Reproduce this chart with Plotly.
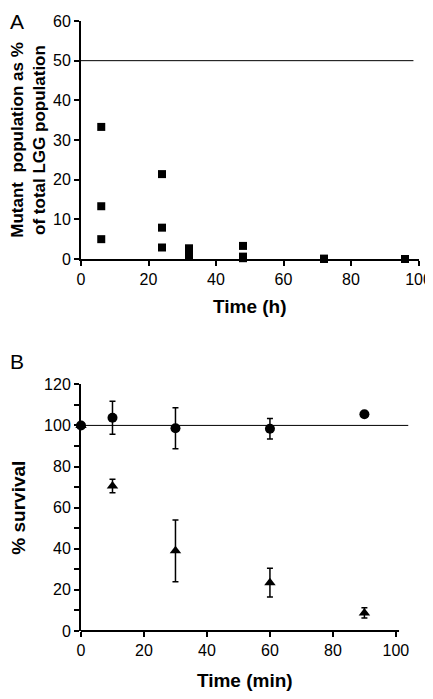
import plotly.graph_objects as go

# ---------------- Data ----------------
# Panel A: mutant population as % of total LGG population vs time (h)
a_time = [6, 6, 6, 24, 24, 24, 32, 32, 32, 48, 48, 48, 72, 72, 96]
a_mutant = [33.3, 13.3, 5.0, 21.4, 7.9, 2.9, 2.7, 1.6, 0.6, 3.3, 0.6, 0.2, 0.1, 0.0, 0.0]
a_ref_x = [0, 98.5]
a_ref_y = [50, 50]

# Panel B: % survival vs time (min)
b_time = [0, 10, 30, 60, 90]
b_circle = [100, 103.7, 98.6, 98.4, 105.4]
b_circle_err = [0, 8, 10, 5, 0]
b_triangle = [100, 70.5, 39, 23.5, 8.8]
b_triangle_err = [0, 3.3, 15, 7, 2.5]
b_ref_x = [0, 104]
b_ref_y = [100, 100]

x_ticks = [0, 20, 40, 60, 80, 100]

# page body has an 8px margin; figure fills the window width, no vertical scroll
OFF = 8
W, H = 433 - OFF, 699 - 2 * OFF
FONT = "Liberation Sans, Arial, sans-serif"


def px(x):
    return (x - OFF) / W


def py(y):
    return 1 - (y - OFF) / H


fig = go.Figure()

# Panel A
fig.add_trace(go.Scatter(x=a_ref_x, y=a_ref_y, mode="lines",
                         line=dict(color="black", width=1), xaxis="x", yaxis="y",
                         hoverinfo="skip"))
fig.add_trace(go.Scatter(x=a_time, y=a_mutant, mode="markers",
                         marker=dict(symbol="square", size=8, color="black"),
                         xaxis="x", yaxis="y", cliponaxis=False))

# Panel B
fig.add_trace(go.Scatter(x=b_ref_x, y=b_ref_y, mode="lines",
                         line=dict(color="black", width=1), xaxis="x2", yaxis="y2",
                         hoverinfo="skip", cliponaxis=False))
fig.add_trace(go.Scatter(x=b_time, y=b_circle, mode="markers",
                         marker=dict(symbol="circle", size=10, color="black"),
                         error_y=dict(type="data", array=b_circle_err, visible=True,
                                      color="black", thickness=1.5, width=3),
                         xaxis="x2", yaxis="y2", cliponaxis=False))
fig.add_trace(go.Scatter(x=b_time, y=b_triangle, mode="markers",
                         marker=dict(symbol="triangle-up", size=10, color="black"),
                         error_y=dict(type="data", array=b_triangle_err, visible=True,
                                      color="black", thickness=1.5, width=3),
                         xaxis="x2", yaxis="y2", cliponaxis=False))

a_xdom = [px(81), px(418.5)]
a_ydom = [py(259), py(21)]
b_xdom = [px(81), px(408.5)]
b_ydom = [py(631), py(384.3)]

axis_common = dict(showgrid=False, zeroline=False, ticks="outside", ticklen=5,
                   tickwidth=1.5, tickcolor="black", linecolor="black",
                   automargin=False, ticklabeloverflow="allow",
                   tickfont=dict(family=FONT, size=16, color="black"))

fig.update_layout(
    width=W, height=H,
    margin=dict(l=0, r=0, t=0, b=0),
    paper_bgcolor="white", plot_bgcolor="white",
    showlegend=False,
    font=dict(family=FONT, color="black"),
    xaxis=dict(domain=a_xdom, range=[0, 100], tickvals=x_ticks, anchor="y",
               showline=True, linewidth=2,
               title=dict(text="Time (h)", standoff=12,
                          font=dict(family=FONT, size=19, weight="bold")),
               **axis_common),
    yaxis=dict(domain=a_ydom, range=[0, 60], dtick=10, anchor="x",
               showline=True, linewidth=2,
               title=dict(text="Mutant  population as %<br>of total LGG population",
                          standoff=12,
                          font=dict(family=FONT, size=17, weight="bold")),
               **axis_common),
    xaxis2=dict(domain=b_xdom, range=[0, 104], tickvals=x_ticks, anchor="y2",
                showline=False,
                title=dict(text="Time (min)", standoff=15,
                           font=dict(family=FONT, size=19, weight="bold")),
                **axis_common),
    yaxis2=dict(domain=b_ydom, range=[0, 120], dtick=20, anchor="x2",
                showline=True, linewidth=2,
                minor=dict(dtick=10, ticks="outside", ticklen=5, tickcolor="black",
                           tickwidth=1.5),
                title=dict(text="% survival", standoff=16,
                           font=dict(family=FONT, size=19, weight="bold")),
                **axis_common),
)

# B x-axis line ends slightly past 100 (at 101)
b_axis_end = b_xdom[0] + (101 / 104) * (b_xdom[1] - b_xdom[0])
fig.add_shape(type="line", xref="paper", yref="paper",
              x0=b_xdom[0], x1=b_axis_end, y0=b_ydom[0], y1=b_ydom[0],
              line=dict(color="black", width=2))

# Panel letters
fig.add_annotation(text="A", xref="paper", yref="paper", x=0, y=py(8),
                   xanchor="left", yanchor="top", showarrow=False,
                   font=dict(family=FONT, size=21, color="black"))
fig.add_annotation(text="B", xref="paper", yref="paper", x=0, y=py(348),
                   xanchor="left", yanchor="top", showarrow=False,
                   font=dict(family=FONT, size=21, color="black"))

fig.write_html("out.html")
